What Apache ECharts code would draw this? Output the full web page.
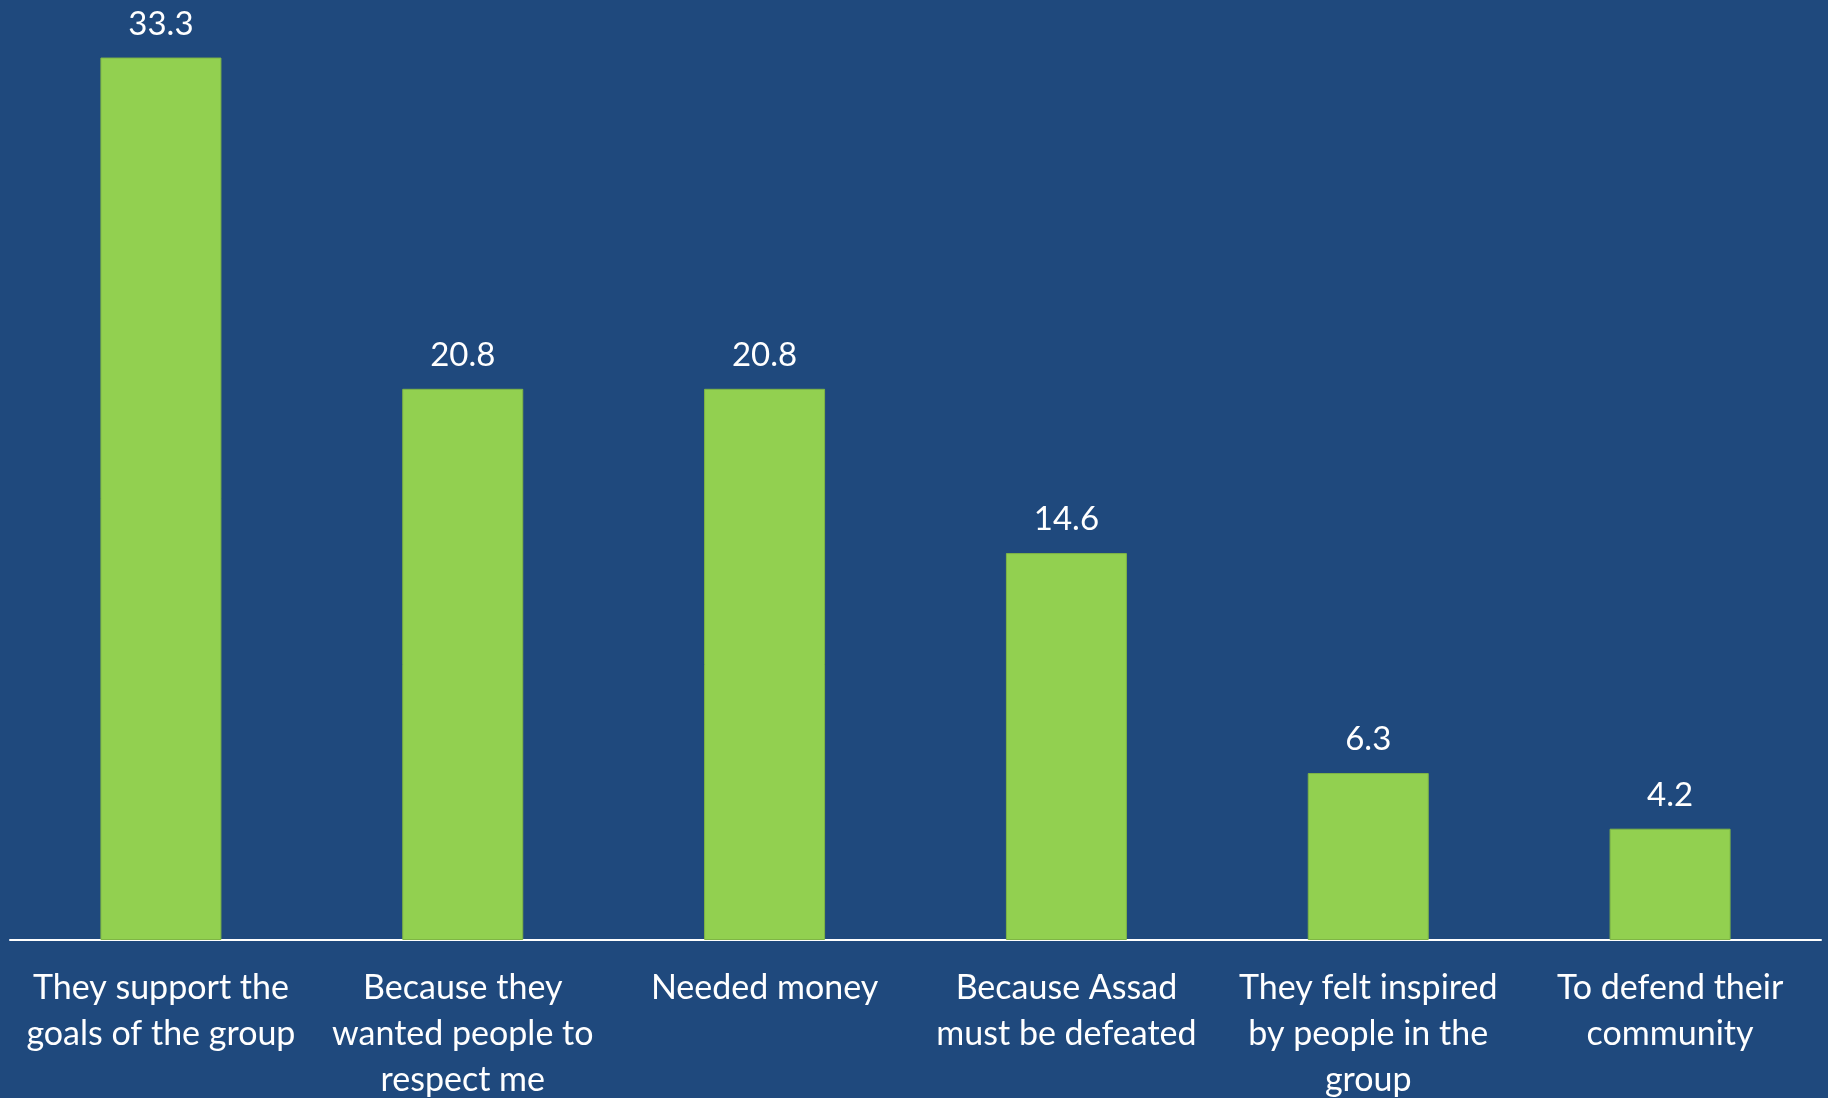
<!DOCTYPE html>
<html>
<head>
<meta charset="utf-8">
<style>
html,body{margin:0;padding:0;background:#1f497d;}
#chart{width:1828px;height:1098px;}
</style>
<script src="https://cdn.jsdelivr.net/npm/echarts@6/dist/echarts.min.js"></script>
</head>
<body>
<div id="chart"></div>
<script>
const categories = [
  "They support the\ngoals of the group",
  "Because they\nwanted people to\nrespect me",
  "Needed money",
  "Because Assad\nmust be defeated",
  "They felt inspired\nby people in the\ngroup",
  "To defend their\ncommunity"
];
const values = [33.3, 20.8, 20.8, 14.6, 6.3, 4.2];

const chart = echarts.init(document.getElementById('chart'));
chart.setOption({
  backgroundColor: '#1f497d',
  animation: false,
  grid: { left: 10, right: 7, top: 12.5, bottom: 158, containLabel: false, outerBoundsMode: 'none' },
  xAxis: {
    type: 'category',
    data: categories,
    axisLine: { show: true, lineStyle: { color: '#ffffff', width: 2 } },
    axisTick: { show: false },
    axisLabel: {
      interval: 0,
      color: '#ffffff',
      fontFamily: 'Lato',
      fontSize: 34,
      lineHeight: 46,
      margin: 25
    }
  },
  yAxis: {
    type: 'value',
    min: 0,
    max: 35,
    show: false,
    splitLine: { show: false }
  },
  series: [{
    type: 'bar',
    data: values,
    barWidth: 121,
    itemStyle: { color: '#92d050', borderColor: '#7fb545', borderWidth: 1 },
    label: {
      show: true,
      position: 'top',
      distance: 17,
      color: '#ffffff',
      fontFamily: 'Lato',
      fontSize: 33,
      formatter: p => p.value.toFixed(1)
    }
  }]
});
</script>
</body>
</html>
